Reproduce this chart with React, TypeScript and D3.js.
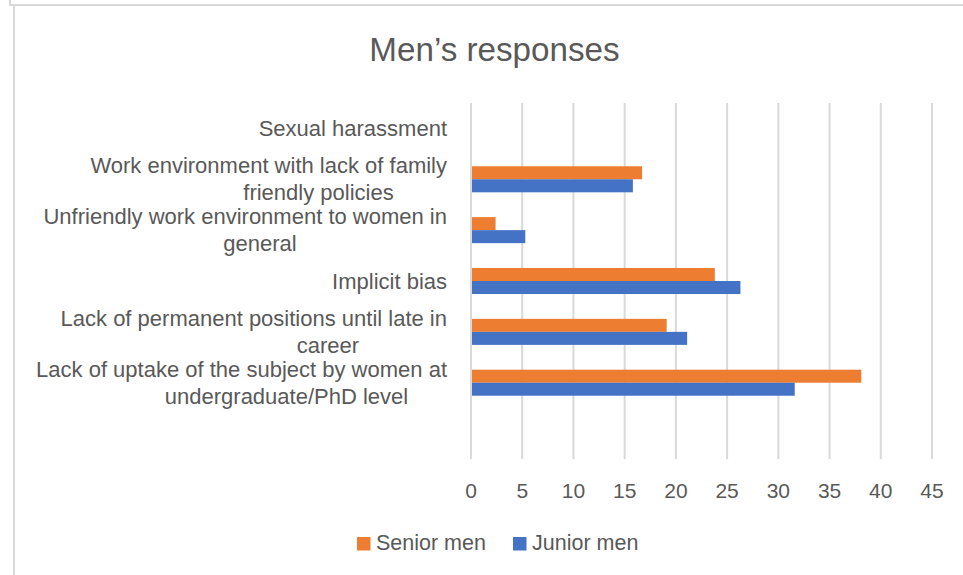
import React from "react";
import * as d3 from "d3";

// Categories, top to bottom, with the wrapped lines of each axis label.
const categories = [
  "Sexual harassment",
  "Work environment with lack of family friendly policies",
  "Unfriendly work environment to women in general",
  "Implicit bias",
  "Lack of permanent positions until late in career",
  "Lack of uptake of the subject by women at undergraduate/PhD level",
  "",
];
const categoryLines: string[][] = [
  ["Sexual harassment"],
  ["Work environment with lack of family", "friendly policies"],
  ["Unfriendly work environment to women in", "general"],
  ["Implicit bias"],
  ["Lack of permanent positions until late in", "career"],
  ["Lack of uptake of the subject by women at", "undergraduate/PhD level"],
  [],
];
const seniorMen: (number | null)[] = [0, 16.7, 2.4, 23.8, 19.1, 38.1, null];
const juniorMen: (number | null)[] = [0, 15.8, 5.3, 26.3, 21.1, 31.6, null];
const seriesNames = ["Senior men", "Junior men"];
const seriesColors = ["#ED7D31", "#4472C4"];
const xTicks = [0, 5, 10, 15, 20, 25, 30, 35, 40, 45];

const W = 963;
const H = 575;
const FONT = "'Liberation Sans', Arial, sans-serif";
const TEXT = "#595959";
const GRID = "#D9D9D9";

// Horizontal centre of each wrapped continuation line (layout only).
const wrapCentre: (number | null)[] = [null, 318.5, 260, null, 328, 286.5, null];

export default function App() {
  const x = d3.scaleLinear().domain([0, 45]).range([471, 932]);
  const y = d3.scaleBand<string>().domain(categories).range([103, 459]).padding(0);
  const bw = y.bandwidth();
  const barH = bw * 0.256;
  const inner = d3
    .scaleBand<string>()
    .domain(seriesNames)
    .range([bw / 2 - barH, bw / 2 + barH])
    .padding(0);
  const series = [seniorMen, juniorMen];
  const lineGap = 27;

  return (
    <svg
      width={W}
      height={H}
      style={{ position: "absolute", left: 0, top: 0, display: "block", background: "#fff" }}
      fontFamily={FONT}
    >
      {/* frame edges */}
      <rect x={9} y={0} width={2} height={6} fill={GRID} />
      <rect x={9} y={4} width={W - 9} height={2} fill={GRID} />
      <rect x={13} y={5} width={2} height={H - 5} fill={GRID} />

      <text x={494.5} y={61} textAnchor="middle" fontSize={33.2} fill={TEXT}>
        Men’s responses
      </text>

      {/* vertical gridlines */}
      {xTicks.map((t) => (
        <line key={t} x1={x(t)} x2={x(t)} y1={103} y2={459} stroke={GRID} strokeWidth={2} />
      ))}

      {/* bars */}
      {series.map((vals, si) =>
        categories.map((c, ci) => {
          const v = vals[ci];
          if (v == null || v === 0) return null;
          return (
            <rect
              key={`${si}-${ci}`}
              x={x(0) + 1}
              y={(y(c) ?? 0) + (inner(seriesNames[si]) ?? 0)}
              width={x(v) - x(0) - 1}
              height={inner.bandwidth()}
              fill={seriesColors[si]}
            />
          );
        })
      )}

      {/* category labels */}
      {categories.map((c, ci) => {
        const lines = categoryLines[ci];
        const cy = (y(c) ?? 0) + bw / 2;
        const start = cy - ((lines.length - 1) * lineGap) / 2;
        return lines.map((ln, li) => {
          const wc = wrapCentre[ci];
          const centred = li > 0 && wc != null;
          return (
            <text
              key={`${ci}-${li}`}
              x={centred ? wc : 447}
              y={start + li * lineGap + 7.5}
              textAnchor={centred ? "middle" : "end"}
              fontSize={22}
              fill={TEXT}
            >
              {ln}
            </text>
          );
        });
      })}

      {/* x tick labels */}
      {xTicks.map((t) => (
        <text key={t} x={x(t)} y={497.5} textAnchor="middle" fontSize={21} fill={TEXT}>
          {t}
        </text>
      ))}

      {/* legend */}
      {[{ sq: 357, tx: 376 }, { sq: 513, tx: 532 }].map((p, i) => (
        <g key={i}>
          <rect x={p.sq} y={537} width={13.5} height={13.5} fill={seriesColors[i]} />
          <text x={p.tx} y={550} fontSize={21.5} fill={TEXT}>
            {seriesNames[i]}
          </text>
        </g>
      ))}
    </svg>
  );
}
